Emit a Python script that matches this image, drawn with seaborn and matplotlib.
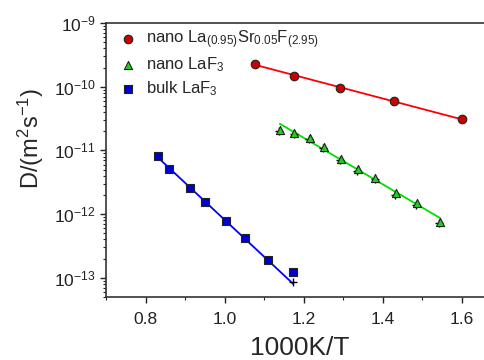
import matplotlib
matplotlib.use("Agg")
import matplotlib.pyplot as plt
import numpy as np
import seaborn as sns

# 1000K/T and diffusion coefficient D (m^2/s)
sr_x = [1.078, 1.177, 1.291, 1.429, 1.600]
sr_d = [2.28e-10, 1.48e-10, 9.5e-11, 6.0e-11, 3.1e-11]

nano_x = [1.140, 1.177, 1.216, 1.252, 1.294, 1.338, 1.382, 1.434, 1.486, 1.545]
nano_d = [2.1e-11, 1.88e-11, 1.57e-11, 1.14e-11, 7.4e-12, 5.1e-12, 3.7e-12,
          2.15e-12, 1.5e-12, 7.6e-13]

bulk_x = [0.831, 0.860, 0.912, 0.951, 1.003, 1.052, 1.109, 1.174]
bulk_d = [8.2e-12, 5.1e-12, 2.58e-12, 1.56e-12, 7.8e-13, 4.2e-13, 1.9e-13,
          1.24e-13]

# black '+' marks lying under the symbols
cross_x = [1.138, 1.175, 1.214, 1.250, 1.292, 1.336, 1.380, 1.432, 1.484, 1.543,
           1.174]
cross_d = [2.0e-11, 1.8e-11, 1.5e-11, 1.08e-11, 7.0e-12, 4.8e-12, 3.5e-12,
           2.0e-12, 1.4e-12, 7.2e-13, 8.5e-14]

labels = [r"nano La$_{(0.95)}$Sr$_{0.05}$F$_{(2.95)}$", r"nano LaF$_3$",
          r"bulk LaF$_3$"]


def fit_line(x, d, n_fit=None):
    x = np.asarray(x)
    ld = np.log10(d)
    n = n_fit or len(x)
    k, b = np.polyfit(x[:n], ld[:n], 1)
    xs = np.array([x[0], x[-1]])
    return xs, 10 ** (k * xs + b)


sns.set_style("ticks")
plt.rcParams["font.family"] = ["Liberation Sans", "DejaVu Sans"]
plt.rcParams["mathtext.fontset"] = "custom"
plt.rcParams["mathtext.rm"] = "Liberation Sans"
plt.rcParams["mathtext.it"] = "Liberation Sans:italic"

fig = plt.figure(figsize=(4.84, 3.6), dpi=100)
ax = fig.add_axes([0.219, 0.175, 0.80, 0.761])

for x, d, lc, nfit in [(sr_x, sr_d, "#ff0000", None),
                       (nano_x, nano_d, "#00e000", None),
                       (bulk_x, bulk_d, "#0000ff", 7)]:
    fx, fd = fit_line(x, d, nfit)
    sns.lineplot(x=fx, y=fd, color=lc, lw=1.3, ax=ax, legend=False)

sns.scatterplot(x=cross_x, y=cross_d, marker="+", color="black", s=40,
                linewidth=1.0, ax=ax, legend=False, zorder=3)

sns.scatterplot(x=sr_x, y=sr_d, marker="o", color="#cc0000", edgecolor="#222",
                s=38, linewidth=0.8, ax=ax, label=labels[0], zorder=4)
sns.scatterplot(x=nano_x, y=nano_d, marker="^", color="#22cc22",
                edgecolor="#222", s=34, linewidth=0.8, ax=ax, label=labels[1],
                zorder=4)
sns.scatterplot(x=bulk_x, y=bulk_d, marker="s", color="#0000cc",
                edgecolor="#222", s=30, linewidth=0.8, ax=ax, label=labels[2],
                zorder=4)

ax.set_yscale("log")
ax.set_xlim(0.7, 1.68)
ax.set_ylim(5e-14, 1e-9)
ax.set_xticks([0.8, 1.0, 1.2, 1.4, 1.6])
ax.set_xticks(np.arange(0.7, 1.7, 0.1), minor=True)
ax.tick_params(axis="both", which="major", labelsize=12.5, direction="out",
               length=4, width=1, colors="#222")
ax.tick_params(axis="x", which="major", pad=7)
ax.tick_params(axis="both", which="minor", direction="out", length=2.5,
               width=0.8, colors="#222")
ax.yaxis.set_minor_locator(matplotlib.ticker.LogLocator(base=10,
                                                        subs=np.arange(2, 10)))
ax.yaxis.set_minor_formatter(matplotlib.ticker.NullFormatter())
for s in ["left", "bottom", "top"]:
    ax.spines[s].set_linewidth(1.2)
    ax.spines[s].set_color("#333")
ax.spines["right"].set_visible(False)

ax.set_xlabel("1000K/T", fontsize=19, labelpad=6)
ax.set_ylabel(r"D/(m$^2$s$^{-1}$)", fontsize=17, labelpad=4)
ax.yaxis.set_label_coords(-0.155, 0.58)

ax.legend(loc="upper left", frameon=False, fontsize=12, handletextpad=0.1,
          labelspacing=0.3, borderaxespad=0.0, borderpad=0.3,
          markerscale=1.0)

fig.savefig("out.png", dpi=100)
